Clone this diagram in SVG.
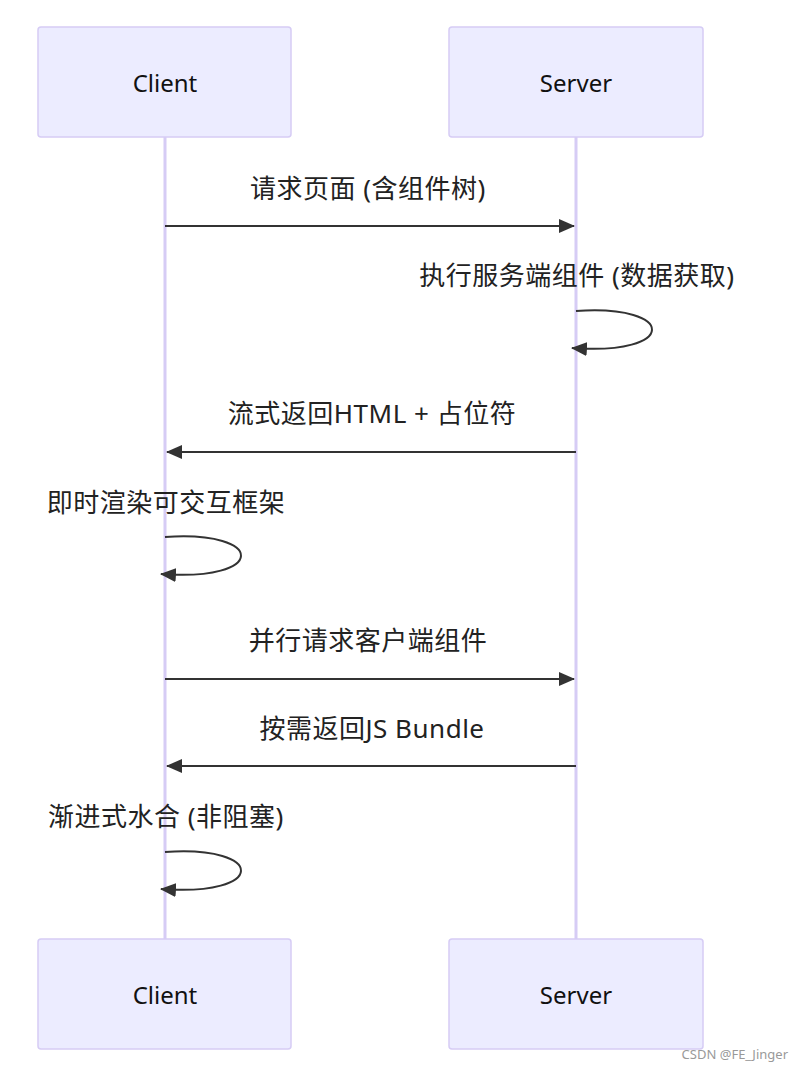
<svg xmlns="http://www.w3.org/2000/svg" width="804" height="1075" viewBox="0 0 804 1075">
<style>
.actor{fill:#ECECFF;stroke:#D6CCF5;stroke-width:1.5}
.at{font-family:"Noto Sans","Noto Sans CJK SC",sans-serif;font-size:24px;fill:#111;text-anchor:middle;dominant-baseline:central}
.life{stroke:#D6CCF5;stroke-width:3}
.msg{stroke:#333;stroke-width:2;fill:none}
.mt{font-family:"Noto Sans","Noto Sans CJK SC",sans-serif;font-size:26px;letter-spacing:0.5px;fill:#222;text-anchor:middle;dominant-baseline:central}
</style>
<defs>
<marker id="ah" viewBox="0 0 16 14" refX="15" refY="7" markerWidth="16" markerHeight="14" markerUnits="userSpaceOnUse" orient="auto">
<path d="M0,0 L16,7 L0,14 z" fill="#333"/>
</marker>
</defs>
<rect width="804" height="1075" fill="#fff"/>
<g id="lifelines">
<line class="life" x1="165" y1="137" x2="165" y2="939"/>
<line class="life" x1="576" y1="137" x2="576" y2="939"/>
</g>
<g id="client-top"><rect class="actor" x="38" y="27" width="253" height="110" rx="3"/><text class="at" x="165" y="82">Client</text></g>
<g id="server-top"><rect class="actor" x="449" y="27" width="254" height="110" rx="3"/><text class="at" x="576" y="82">Server</text></g>
<g id="client-bottom"><rect class="actor" x="38" y="939" width="253" height="110" rx="3"/><text class="at" x="165" y="994">Client</text></g>
<g id="server-bottom"><rect class="actor" x="449" y="939" width="254" height="110" rx="3"/><text class="at" x="576" y="994">Server</text></g>
<g id="connectors">
<line class="msg" x1="165" y1="226" x2="574" y2="226" marker-end="url(#ah)"/>
<path class="msg" d="M576,311 C678,304 678,356 572,348" marker-end="url(#ah)"/>
<line class="msg" x1="576" y1="452" x2="167" y2="452" marker-end="url(#ah)"/>
<path class="msg" d="M165,537 C267,530 267,582 161,574" marker-end="url(#ah)"/>
<line class="msg" x1="165" y1="679" x2="574" y2="679" marker-end="url(#ah)"/>
<line class="msg" x1="576" y1="766" x2="167" y2="766" marker-end="url(#ah)"/>
<path class="msg" d="M165,852 C267,845 267,897 161,889" marker-end="url(#ah)"/>
</g>
<g id="labels">
<text class="mt" x="368" y="188">请求页面 (含组件树)</text>
<text class="mt" x="577" y="275">执行服务端组件 (数据获取)</text>
<text class="mt" x="372" y="413">流式返回HTML + 占位符</text>
<text class="mt" x="166" y="502">即时渲染可交互框架</text>
<text class="mt" x="368" y="640">并行请求客户端组件</text>
<text class="mt" x="372" y="728">按需返回JS Bundle</text>
<text class="mt" x="166" y="816">渐进式水合 (非阻塞)</text>
</g>
<text x="788" y="1059" font-family="Noto Sans, Noto Sans CJK SC, sans-serif" font-size="13" fill="#999" text-anchor="end">CSDN @FE_Jinger</text>
</svg>
